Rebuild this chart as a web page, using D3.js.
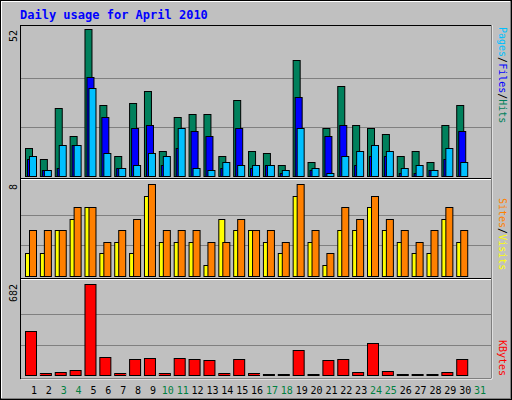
<!DOCTYPE html><html><head><meta charset="utf-8">
<script src="https://cdn.jsdelivr.net/npm/d3@7"></script>
<style>body{margin:0;background:#fff}text{font-family:"DejaVu Sans Mono",monospace}</style></head><body>
<svg id="c" width="512" height="400"></svg>
<script>
const days=d3.range(1,32);
const weekend=[3,4,10,11,17,18,24,25,31];
const hits =[10,6,24,14,52,25,7,26,30,9,21,22,22,7,27,9,8,4,41,5,17,32,18,17,15,7,9,5,18,25,0];
const files=[6,2,3,11,35,21,3,17,18,4,10,16,14,3,17,3,4,1,28,2,14,18,4,7,7,1,1,2,6,16,0];
const pages=[7,2,11,11,31,8,3,4,8,7,17,3,2,5,4,4,4,2,17,3,1,7,9,11,9,3,4,2,10,5,0];
const sites=[2,2,4,5,6,2,3,2,7,3,3,3,1,5,4,4,3,2,7,3,1,4,4,6,4,3,2,2,5,3,0];
const visits=[4,4,4,6,6,3,4,5,8,4,4,4,3,3,5,4,4,3,8,4,2,6,5,7,5,4,3,4,6,4,0];
const kbytes=[330,15,22,37,682,135,15,120,127,15,127,120,112,15,120,15,5,5,187,5,112,120,22,240,30,5,5,5,22,120,0];
const maxes={hits:52,visits:8,kb:682};
const svg=d3.select("#c");
svg.append("rect").attr("x",0).attr("y",0).attr("width",512).attr("height",400).attr("fill","#c0c0c0");
// bevel
svg.append("path").attr("d","M1,399V1H511").attr("stroke","#fff").attr("fill","none").attr("stroke-width",2);
svg.append("path").attr("d","M1,399H511V1").attr("stroke","#808080").attr("fill","none").attr("stroke-width",2);
svg.append("rect").attr("x",0.5).attr("y",0.5).attr("width",511).attr("height",399).attr("fill","none").attr("stroke","#000");
svg.append("text").attr("x",20).attr("y",19).text("Daily usage for April 2010").attr("fill","#0000ff").attr("font-weight","bold").attr("font-size",12);
// plot frame
svg.append("rect").attr("x",20.5).attr("y",25.5).attr("width",471).attr("height",353).attr("fill","#c0c0c0").attr("stroke","#000");
svg.append("path").attr("d","M21,379H492V25").attr("stroke","#fff").attr("fill","none");
[178,278].forEach(y=>{svg.append("line").attr("x1",21).attr("x2",491).attr("y1",y+0.5).attr("y2",y+0.5).attr("stroke","#000");
 svg.append("line").attr("x1",21).attr("x2",491).attr("y1",y+1.5).attr("y2",y+1.5).attr("stroke","#fff");});
const x=d3.scaleBand().domain(days).range([25,25+31*14.87]);
const yT=d3.scaleLinear().domain([0,maxes.hits]).range([176,29]);
const yM=d3.scaleLinear().domain([0,maxes.visits]).range([276,184]);
const yB=d3.scaleLinear().domain([0,maxes.kb]).range([375,284]);
function grid(y,m){[m/3,2*m/3].forEach(v=>svg.append("line").attr("x1",21).attr("x2",491).attr("y1",Math.round(y(v))+0.5).attr("y2",Math.round(y(v))+0.5).attr("stroke","#808080").attr("stroke-width",1));}
grid(yT,maxes.hits);grid(yM,maxes.visits);grid(yB,maxes.kb);
function bars(data,y,off,w,col){
 svg.append("g").selectAll("rect").data(days.filter((d,i)=>data[i]>0)).join("rect")
  .attr("x",d=>x(d)+off+0.5).attr("width",w).attr("y",d=>Math.round(y(data[d-1]))+0.5)
  .attr("height",d=>Math.max(0,y(0)-Math.round(y(data[d-1])))).attr("fill",col).attr("stroke","#000");
}
bars(hits,yT,0,7,"#00805c");bars(files,yT,2,7,"#0000ff");bars(pages,yT,4,7,"#00c0ff");
bars(sites,yM,0,6,"#ffff00");bars(visits,yM,4,7,"#ff8000");
bars(kbytes,yB,0,11,"#ff0000");
// left max labels
[[52,30],[8,184],[682,284]].forEach(([v,y])=>svg.append("text").attr("transform",`translate(17,${y}) rotate(-90)`).attr("text-anchor","end").attr("font-size",10).text(v));
// right labels
function rlab(y,parts){const t=svg.append("text").attr("transform",`translate(499,${y}) rotate(90)`).attr("font-size",10);
 parts.forEach(([s,c])=>t.append("tspan").attr("fill",c).text(s));}
rlab(27,[["Hits","#00805c"],["/","#000"],["Files","#0000ff"],["/","#000"],["Pages","#00c0ff"]].reverse());
rlab(198,[["Visits","#ffff00"],["/","#000"],["Sites","#ff8000"]].reverse());
rlab(340,[["KBytes","#ff0000"]]);
// day labels
svg.append("g").selectAll("text").data(days).join("text").attr("x",d=>x(d)+9).attr("y",394).attr("text-anchor","middle")
 .attr("font-size",10).attr("font-family","DejaVu Sans").attr("fill",d=>weekend.includes(d)?"#008040":"#000").text(d=>d);
</script></body></html>
